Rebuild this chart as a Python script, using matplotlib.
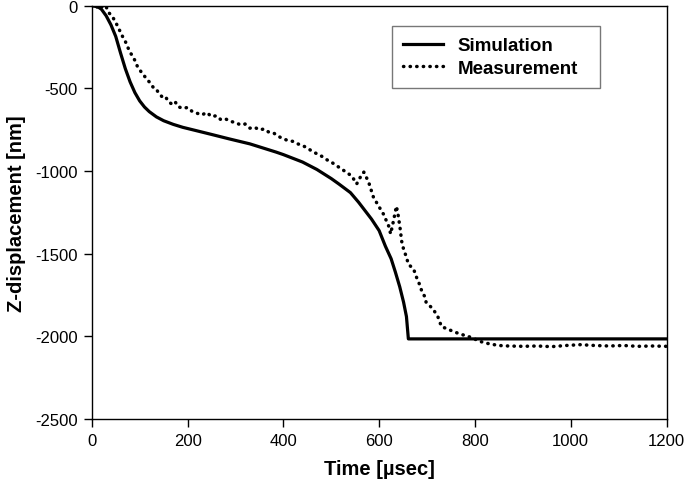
import matplotlib
matplotlib.use('Agg')
import matplotlib.pyplot as plt

plt.rcParams['font.family'] = ['Liberation Sans', 'DejaVu Sans']
plt.rcParams['axes.unicode_minus'] = False

# simulation curve (time in usec, z in nm)
sim_t = [0, 12, 20, 30, 40, 50, 60, 70, 80, 90, 100, 110, 120, 135, 150, 170,
         190, 218, 250, 287, 330, 385, 400, 440, 470, 500, 516, 540, 557, 584,
         600, 613, 625, 634, 643, 651, 657, 661, 1200]
sim_z = [0, -5, -20, -60, -115, -185, -285, -380, -460, -525, -575, -612, -640,
         -672, -695, -717, -735, -755, -778, -805, -835, -885, -900, -945, -990,
         -1045, -1078, -1130, -1188, -1290, -1360, -1454, -1530, -1612, -1700,
         -1793, -1880, -2015, -2015]

# measurement
meas_t = [0, 5, 10, 15, 20, 25, 30, 35, 40, 45, 50, 55, 60, 65, 70, 75, 80, 85,
          90, 95, 100, 105, 110, 115, 120, 125, 130, 135, 140, 145, 150, 155,
          160, 165, 170, 175, 180, 190, 200, 210, 220, 230, 240, 250, 260, 270,
          280, 290, 300, 310, 320, 330, 340, 350, 360, 370, 380, 390, 400, 410,
          420, 430, 440, 450, 460, 470, 480, 490, 500, 510, 522, 533, 543, 553,
          560, 568, 578, 588, 599, 609, 620, 624, 630, 636, 640, 644, 647, 651,
          657, 661, 672, 678, 686, 689, 696, 698, 713, 723, 730, 744, 759, 771,
          792, 810, 830, 850, 870, 900, 930, 960, 990, 1020, 1050, 1080, 1110,
          1140, 1170, 1200]
meas_z = [0, 5, -10, 8, 0, -15, -5, -40, -55, -75, -100, -130, -160, -190, -215,
          -250, -280, -305, -330, -365, -385, -410, -425, -445, -460, -480, -500,
          -505, -530, -545, -560, -555, -580, -590, -600, -585, -610, -620, -615,
          -640, -650, -660, -645, -670, -665, -690, -685, -700, -705, -720, -715,
          -740, -735, -750, -745, -765, -770, -790, -805, -815, -820, -835, -845,
          -860, -880, -895, -910, -930, -945, -965, -988, -1010, -1030, -1078,
          -1040, -1006, -1066, -1157, -1212, -1260, -1333, -1380, -1300, -1212,
          -1272, -1351, -1424, -1472, -1521, -1563, -1593, -1642, -1697, -1727,
          -1763, -1793, -1836, -1884, -1940, -1957, -1975, -1987, -2006, -2030,
          -2045, -2055, -2058, -2060, -2058, -2062, -2055, -2050, -2055, -2058,
          -2055, -2060, -2058, -2060]

fig = plt.figure(figsize=(6.85, 4.89), dpi=100)
ax = fig.add_axes([0.134, 0.141, 0.839, 0.845])

ax.plot(sim_t, sim_z, color='black', lw=2.3, label='Simulation')
ax.plot(meas_t, meas_z, color='black', lw=2.5, linestyle=(0, (0.1, 1.8)),
        dash_capstyle='round', label='Measurement')

ax.set_xlim(0, 1200)
ax.set_ylim(-2500, 0)
ax.set_xticks(range(0, 1201, 200))
ax.set_yticks(range(-2500, 1, 500))
ax.tick_params(direction='out', length=6, width=1, labelsize=12, pad=4)
for s in ax.spines.values():
    s.set_linewidth(1)

ax.set_xlabel('Time [\u00b5sec]', fontsize=14.5, fontweight='bold', labelpad=8)
ax.set_ylabel('Z-displacement [nm]', fontsize=14.5, fontweight='bold', labelpad=7)

leg = ax.legend(loc='upper left', bbox_to_anchor=(0.5226, 0.9516 - 0.143, 0.361, 0.143),
                mode='expand',
                prop={'weight': 'bold', 'size': 13.5}, frameon=True, fancybox=False,
                handlelength=2.1, borderpad=0.6, labelspacing=0.3,
                borderaxespad=0)
leg.get_frame().set_edgecolor('#555555')
leg.get_frame().set_linewidth(1)

plt.savefig('out.png', dpi=100)
plt.close()
